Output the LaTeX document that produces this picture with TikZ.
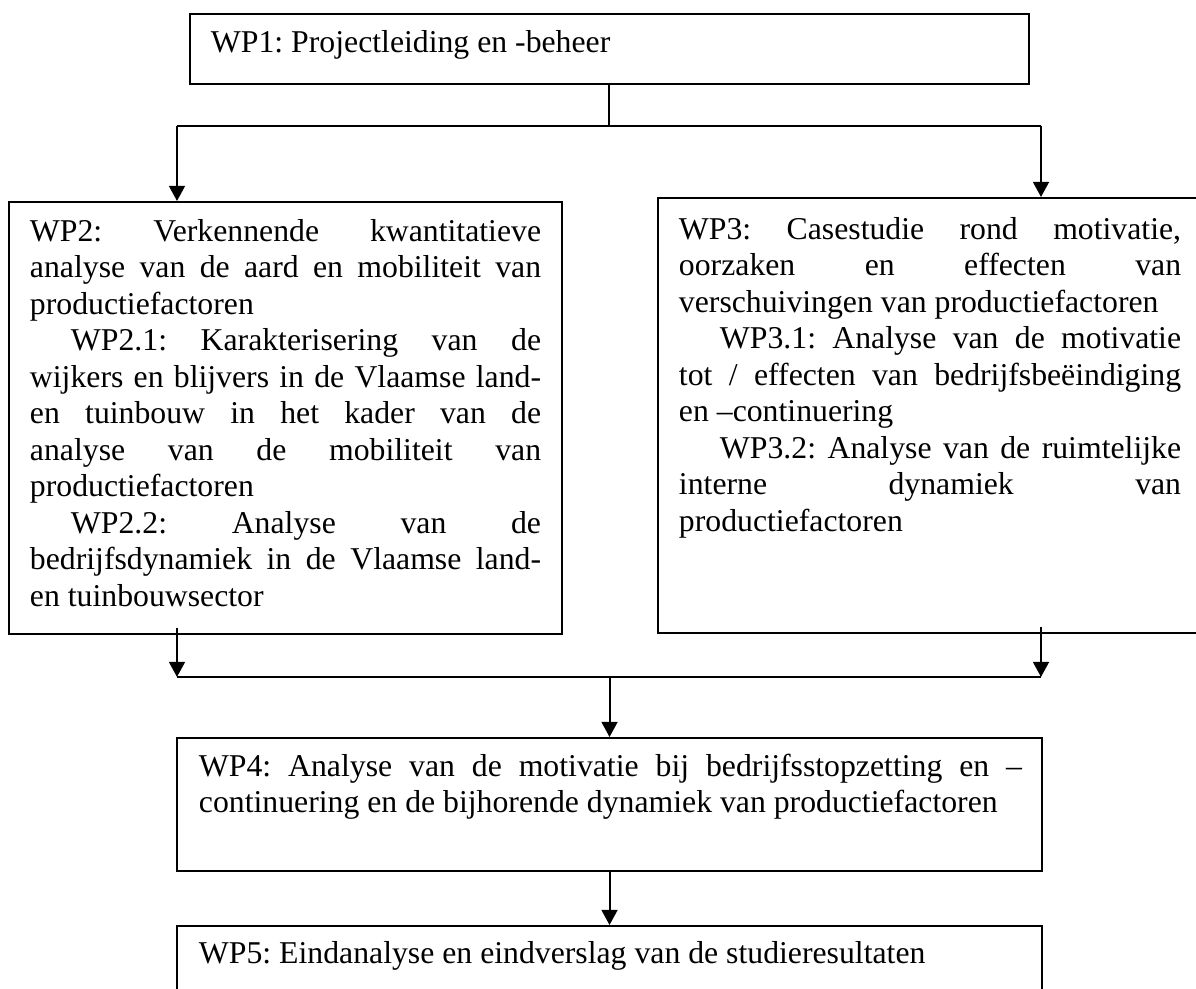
\documentclass[tikz,border=0pt]{standalone}
\usepackage{fontspec}
\setmainfont{Liberation Serif}
\usetikzlibrary{arrows.meta}
\tolerance=10000
\hyphenpenalty=10000
\frenchspacing

\begin{document}
\begin{tikzpicture}[x=0.378pt, y=-0.378pt, line width=0.75pt,
>={Triangle[width=6pt,length=5.7pt]},
box/.style={draw,rectangle,inner sep=0pt,anchor=north west},
txt/.style={inner sep=0pt,anchor=north west,font=\fontsize{12pt}{13.8pt}\selectfont},
line/.style={inner sep=0pt,anchor=base west,font=\fontsize{12pt}{13.8pt}\selectfont}]
\useasboundingbox (0,0) rectangle (1196,989);

\node[box,minimum width=317.1pt,minimum height=26.5pt] (wp1) at (189,13) {};
\node[box,minimum width=209.0pt,minimum height=163.3pt] (wp2) at (8,201) {};
\node[box,minimum width=205.6pt,minimum height=164.4pt] (wp3) at (657,197) {};
\node[box,minimum width=327.0pt,minimum height=50.3pt] (wp4) at (176,737) {};
\node[box,minimum width=327.0pt,minimum height=30.2pt] (wp5) at (176,925) {};

\node[line] (wp1t) at (210,53) {WP1: Projectleiding en -beheer};
\node[txt] (wp2t) at (29,218) {\begin{minipage}[t]{193.2pt}WP2: Verkennende kwantitatieve\linebreak
analyse van de aard en mobiliteit van\linebreak productiefactoren\par
\hspace*{15.5pt}WP2.1: Karakterisering van de\linebreak wijkers en blijvers in de Vlaamse land-\linebreak
en tuinbouw in het kader van de\linebreak analyse van de mobiliteit van\linebreak productiefactoren\par
\hspace*{15.5pt}WP2.2: Analyse van de\linebreak bedrijfsdynamiek in de Vlaamse land-\linebreak
en tuinbouwsector\end{minipage}};
\node[txt] (wp3t) at (678,216) {\begin{minipage}[t]{189.8pt}WP3: Casestudie rond motivatie,\linebreak
oorzaken en effecten van\linebreak verschuivingen van productiefactoren\par
\hspace*{15.5pt}WP3.1: Analyse van de motivatie\linebreak tot / effecten van bedrijfsbeëindiging\linebreak
en --continuering\par
\hspace*{15.5pt}WP3.2: Analyse van de ruimtelijke\linebreak interne dynamiek van\linebreak productiefactoren\end{minipage}};
\node[txt] (wp4t) at (198,753) {\begin{minipage}[t]{311.1pt}WP4: Analyse van de motivatie bij bedrijfsstopzetting en --\linebreak
continuering en de bijhorende dynamiek van productiefactoren\end{minipage}};
\node[line] (wp5t) at (198,963) {WP5: Eindanalyse en eindverslag van de studieresultaten};

\coordinate (j1) at (wp1.south |- 0,126);
\coordinate (b1l) at (177,126);
\coordinate (b1r) at (1041,126);
\coordinate (b2l) at (177,677);
\coordinate (b2r) at (1041,677);

\draw (wp1.south) -- (j1);
\draw (b1l) -- (b1r);
\draw[->] (b1l) -- (b1l |- wp2.north);
\draw[->] (b1r) -- (b1r |- wp3.north);
\draw[->] ([yshift=2.6pt]b2l |- wp2.south) -- (b2l);
\draw[->] ([yshift=2.6pt]b2r |- wp3.south) -- (b2r);
\draw (b2l) -- (b2r);
\draw[->] (wp4.north |- b2l) -- (wp4.north);
\draw[->] (wp4.south) -- (wp5.north);
\end{tikzpicture}
\end{document}
